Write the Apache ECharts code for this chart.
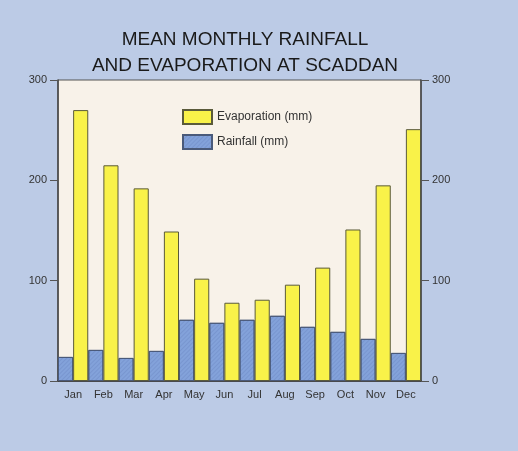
<!DOCTYPE html>
<html>
<head>
<meta charset="utf-8">
<script src="https://cdn.jsdelivr.net/npm/echarts@6/dist/echarts.min.js"></script>
<style>
  html, body { margin: 0; padding: 0; background: #bccbe6; }
  #chart { width: 518px; height: 451px; }
</style>
</head>
<body>
<div id="chart"></div>
<script>
// data
var months = ["Jan", "Feb", "Mar", "Apr", "May", "Jun", "Jul", "Aug", "Sep", "Oct", "Nov", "Dec"];
var rainfall = [24, 31, 23, 30, 61, 58, 61, 65, 54, 49, 42, 28];
var evaporation = [270, 215, 192, 149, 102, 78, 81, 96, 113, 151, 195, 251];
var yTicks = [0, 100, 200, 300];

var font = "'Liberation Sans', Arial, sans-serif";

var myChart = echarts.init(document.getElementById("chart"));

function yAxis(pos) {
  return {
    type: "value",
    position: pos,
    min: yTicks[0],
    max: yTicks[yTicks.length - 1],
    interval: 100,
    axisLine: { show: true, lineStyle: { color: "#444", width: 1.5 } },
    axisTick: { show: true, inside: false, length: 8, lineStyle: { color: "#555" } },
    axisLabel: { margin: 11, color: "#333", fontSize: 11, fontFamily: font },
    splitLine: { show: false }
  };
}

var option = {
  backgroundColor: "#bccbe6",
  title: {
    text: "MEAN MONTHLY RAINFALL\nAND EVAPORATION AT SCADDAN",
    left: 240,
    textAlign: "center",
    top: 22,
    textStyle: {
      fontFamily: font,
      fontSize: 19,
      fontWeight: "normal",
      color: "#1a1a1a",
      lineHeight: 26
    }
  },
  legend: {
    orient: "vertical",
    left: 177,
    top: 104,
    icon: "rect",
    itemWidth: 29,
    itemHeight: 14,
    itemGap: 9,
    data: ["Evaporation (mm)", "Rainfall (mm)"],
    textStyle: { fontFamily: font, fontSize: 12, color: "#333" }
  },
  grid: {
    left: 58,
    right: 97,
    top: 80,
    bottom: 70,
    show: true,
    backgroundColor: "#f8f2e9",
    borderColor: "#555",
    borderWidth: 1
  },
  xAxis: {
    type: "category",
    data: months,
    axisLine: { lineStyle: { color: "#333", width: 1.5 } },
    axisTick: { show: false },
    axisLabel: { margin: 8, color: "#333", fontSize: 11, fontFamily: font }
  },
  yAxis: [yAxis("left"), yAxis("right")],
  series: [
    {
      name: "Rainfall (mm)",
      type: "bar",
      data: rainfall,
      barGap: "0%",
      barCategoryGap: "0%",
      itemStyle: {
        color: "#83a2da",
        borderColor: "#4a5a7a",
        borderWidth: 1,
        decal: {
          symbol: "rect",
          color: "rgba(70, 95, 160, 0.18)",
          dashArrayX: [1, 0],
          dashArrayY: [1, 2],
          rotation: -Math.PI / 4
        }
      }
    },
    {
      name: "Evaporation (mm)",
      type: "bar",
      data: evaporation,
      barGap: "0%",
      barCategoryGap: "0%",
      itemStyle: { color: "#f9f249", borderColor: "#5a5a3a", borderWidth: 1 }
    }
  ]
};

myChart.setOption(option);
</script>
</body>
</html>
